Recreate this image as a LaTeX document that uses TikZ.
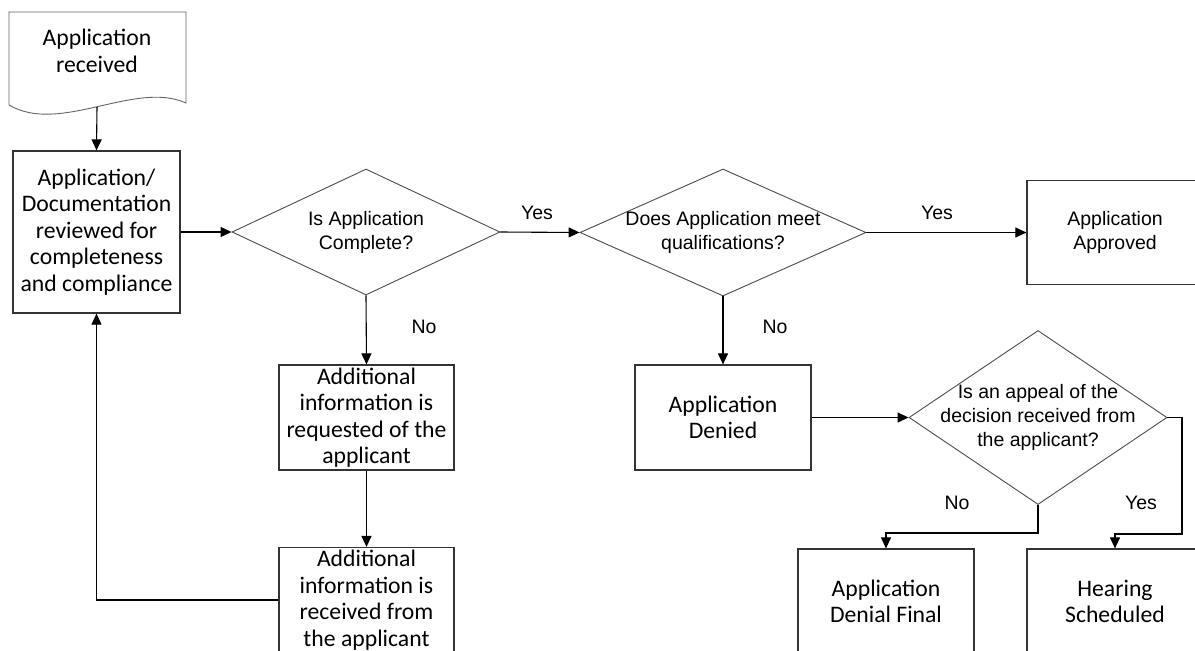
\documentclass[tikz,border=0pt]{standalone}
\usepackage{fontspec}
\setmainfont{Carlito}
\newfontfamily\arialfont{Liberation Sans}
\usetikzlibrary{shapes.geometric,arrows.meta}

\begin{document}
\begin{tikzpicture}[x=1pt,y=-1pt,
        box/.style={draw=black!80, line width=1.2pt, align=center, inner sep=0pt,
            minimum width=176pt, minimum height=105pt,
            font=\fontsize{23.7}{26.5}\selectfont},
        decision/.style={diamond, draw=black!70, line width=0.9pt, inner sep=0pt},
        qtext/.style={align=center, font=\arialfont\fontsize{19.5}{24}\selectfont},
        lbl/.style={font=\arialfont\fontsize{19.5}{24}\selectfont},
        flow/.style={draw=black, line width=1.1pt, -{Triangle[length=11pt,width=10pt]}}]
        \clip (0,0) rectangle (1195,651);
        \fill[white] (0,0) rectangle (1195,651);

        % application received document
        \draw[black!60, line width=0.9pt] (9,105) -- (9,12) -- (186,12) -- (186,103)
            .. controls (135,80) and (60,135) .. (9,105);
        \node[align=center, font=\fontsize{23.7}{27.5}\selectfont] (recv) at (97,51)
            {Application\\received};
        \coordinate (recvbot) at (97,107);

        % review and the two questions
        \node[box, minimum width=167pt, minimum height=162pt] (review) at (96.5,232)
            {Application/\\Documentation\\reviewed for\\completeness\\and compliance};
        \node[decision, minimum width=268pt, minimum height=126pt] (d1) at (366,232) {};
        \node[qtext] (d1txt) at (d1) {Is Application\\Complete?};
        \node[decision, minimum width=286pt, minimum height=127pt] (d2) at (723,232.5) {};
        \node[qtext] (d2txt) at (d2) {Does Application meet\\qualifications?};
        \node[box, font=\arialfont\fontsize{19.5}{24}\selectfont, minimum height=104pt]
            (approved) at (1115,232.5) {Application\\Approved};

        % incomplete branch
        \node[box, minimum width=175pt] (requested) at (366.5,417.5)
            {Additional\\information is\\requested of the\\applicant};
        \node[box, minimum width=175pt] (received) at (366.5,600)
            {Additional\\information is\\received from\\the applicant};

        % denied branch
        \node[box] (denied) at (723,417.5) {Application\\Denied};
        \node[decision, minimum width=258pt, minimum height=174pt] (d3) at (1038,417.5) {};
        \node[qtext] (d3txt) at (d3) {Is an appeal of the\\decision received from\\the applicant?};
        \node[box] (final) at (886,601.5) {Application\\Denial Final};
        \node[box] (hearing) at (1115,601.5) {Hearing\\Scheduled};
        \coordinate (nobend) at (1038,533);
        \coordinate (yesturn) at (1182,534);

        % labels
        \node[lbl] (yes1) at (537,213) {Yes};
        \node[lbl] (yes2) at (937,213) {Yes};
        \node[lbl] (no1) at (424,327) {No};
        \node[lbl] (no2) at (775,327) {No};
        \node[lbl] (no3) at (957,503) {No};
        \node[lbl] (yes3) at (1141,503) {Yes};

        % connectors
        \draw[flow] (recvbot) -- (review.north);
        \draw[flow] (review.east) -- (d1.west);
        \draw[flow] (d1.east) -- (d2.west);
        \draw[flow] (d2.east) -- (approved.west);
        \draw[flow] (d1.south) -- (requested.north);
        \draw[flow] (requested.south) -- (received.north);
        \draw[flow] (received.west) -| (review.south);
        \draw[flow] (d2.south) -- (denied.north);
        \draw[flow] (denied.east) -- (d3.west);
        \draw[flow] (d3.south) -- (nobend) -| (final.north);
        \draw[flow] (d3.east) -| (yesturn) -| (hearing.north);
    \end{tikzpicture}
\end{document}
